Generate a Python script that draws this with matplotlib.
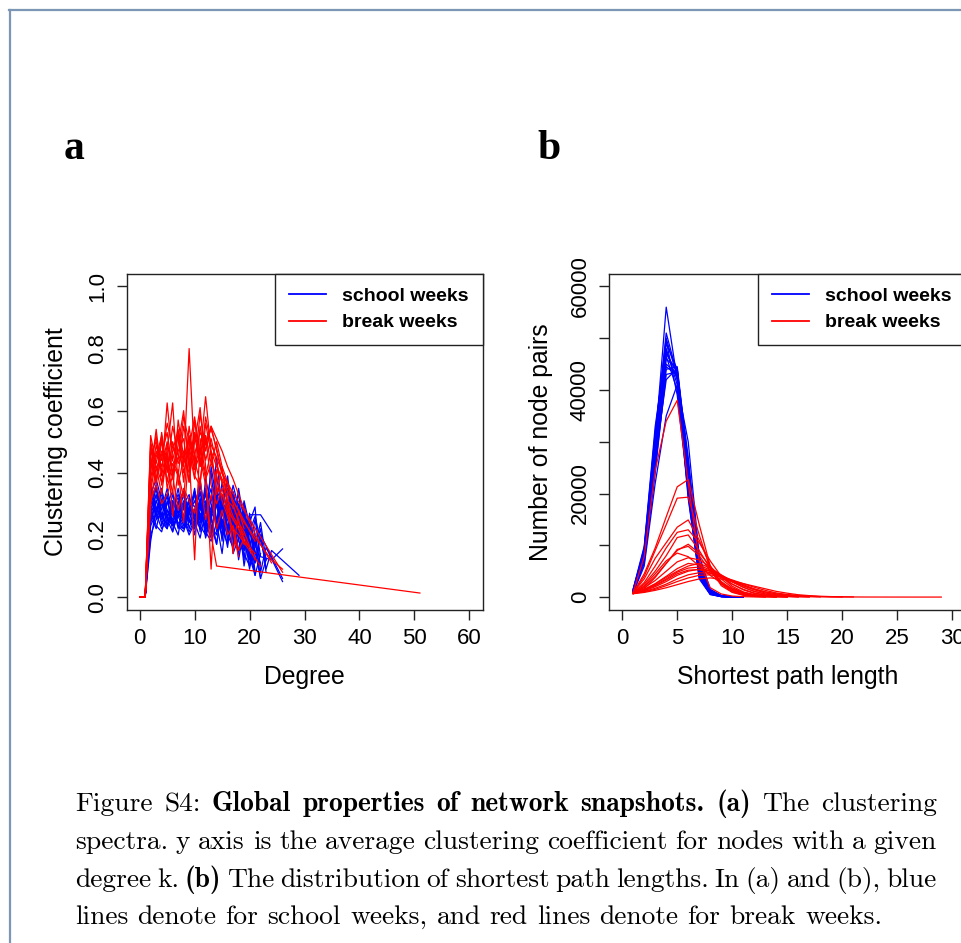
import numpy as np
import matplotlib
matplotlib.use("Agg")
import matplotlib.pyplot as plt
from matplotlib.lines import Line2D

nan = np.nan

# panel a: average clustering coefficient per degree (index = degree k)
school_cc = [
    [0, 0, 0.30, 0.36, 0.26, 0.22, 0.31, 0.27, 0.33, 0.22, 0.28, 0.34, 0.24, 0.19, 0.31, 0.22, 0.17, 0.28, 0.14, 0.24, 0.12, 0.20, 0.10],
    [0, 0, 0.24, 0.31, 0.33, 0.25, 0.21, 0.29, 0.24, 0.32, 0.20, 0.28, 0.33, 0.23, 0.17, 0.30, 0.35, 0.20, 0.15, 0.27, 0.14, 0.08],
    [0, 0, 0.37, 0.29, 0.25, 0.30, 0.34, 0.23, 0.22, 0.29, 0.33, 0.21, 0.38, 0.30, 0.24, 0.14, 0.29, 0.19, 0.26, 0.10, 0.21, 0.15, 0.06, 0.12],
    [0, 0, 0.20, 0.25, 0.31, 0.23, 0.29, 0.32, 0.26, 0.21, 0.25, 0.36, 0.27, 0.40, 0.24, 0.33, 0.22, 0.16, 0.30, 0.21, 0.09, 0.19, 0.06],
    [0, 0, 0.33, 0.38, 0.31, 0.26, 0.23, 0.30, 0.34, 0.25, 0.22, 0.30, 0.21, 0.28, 0.35, 0.22, 0.31, 0.14, 0.19, 0.28, 0.13, 0.07, 0.14],
    [0, 0, 0.18, 0.29, 0.24, 0.22, 0.28, 0.23, 0.21, 0.27, 0.31, 0.25, 0.34, 0.23, 0.20, 0.32, 0.18, 0.29, 0.12, 0.22, 0.26, 0.11, 0.20, nan, nan, nan, 0.06],
    [0, 0, 0.29, 0.23, 0.21, 0.28, 0.24, 0.20, 0.30, 0.25, 0.22, 0.31, 0.19, 0.26, 0.17, 0.29, 0.37, 0.22, 0.27, 0.19, 0.265, nan, 0.265, nan, 0.21],
    [0, 0, 0.32, 0.26, 0.34, 0.28, 0.25, 0.31, 0.24, 0.29, 0.26, 0.22, 0.31, 0.24, 0.39, 0.27, 0.21, 0.32, 0.20, 0.15, 0.24, 0.29, 0.08, 0.16, nan, nan, 0.05],
    [0, 0, 0.26, 0.33, 0.28, 0.35, 0.27, 0.24, 0.22, 0.28, 0.33, 0.26, 0.23, 0.42, 0.31, 0.25, 0.20, 0.16, 0.30, 0.22, 0.18, 0.11, 0.20, 0.09, 0.15, nan, nan, nan, nan, 0.07],
    [0, 0, 0.36, 0.25, 0.27, 0.23, 0.31, 0.27, 0.25, 0.20, 0.24, 0.19, 0.28, 0.21, 0.30, 0.19, 0.25, 0.31, 0.18, 0.14, 0.10, 0.22],
    [0, 0, 0.28, 0.35, 0.23, 0.31, 0.24, 0.30, 0.34, 0.27, 0.23, 0.32, 0.21, 0.18, 0.24, 0.37, 0.26, 0.22, 0.34, 0.15, 0.24, 0.08],
    [0, 0, 0.31, 0.27, 0.35, 0.26, 0.30, 0.22, 0.30, 0.33, 0.25, 0.24, 0.29, 0.35, 0.21, 0.25, 0.16, 0.33, 0.23, 0.28, 0.16, 0.25, 0.13, nan, 0.12, nan, 0.155],
    [0, 0, 0.24, 0.31, 0.26, 0.33, 0.21, 0.27, 0.23, 0.31, 0.27, 0.38, 0.23, 0.29, 0.33, 0.18, 0.35, 0.25, 0.19, 0.31, 0.23, 0.17],
    [0, 0, 0.34, 0.28, 0.31, 0.25, 0.33, 0.27, 0.29, 0.24, 0.34, 0.28, 0.35, 0.25, 0.45, 0.27, 0.39, 0.24, 0.21, 0.30, 0.18, 0.07],
    [0, 0, 0.27, 0.22, 0.30, 0.33, 0.27, 0.35, 0.25, 0.31, 0.24, 0.27, 0.22, 0.32, 0.25, 0.20, 0.30, 0.18, 0.35, 0.24, 0.10, 0.16, 0.24, 0.12],
    [0, 0, 0.31, 0.36, 0.26, 0.28, 0.23, 0.26, 0.31, 0.27, 0.35, 0.24, 0.30, 0.20, 0.32, 0.24, 0.21, 0.34, 0.26, 0.12, 0.27, 0.16, 0.22, 0.08],
    [0, 0, 0.23, 0.27, 0.22, 0.25, 0.23, 0.26, 0.22, 0.24, 0.27, 0.23, 0.20, 0.27, 0.25, 0.29, 0.23, 0.20, 0.24, 0.17, 0.22, 0.14, 0.11],
    [0, 0, 0.35, 0.32, 0.30, 0.32, 0.29, 0.33, 0.28, 0.31, 0.29, 0.33, 0.30, 0.27, 0.34, 0.31, 0.27, 0.36, 0.29, 0.25, 0.21, 0.26, 0.18, 0.12],
]

break_cc = [
    [0, 0, 0.45, 0.38, 0.50, 0.41, 0.55, 0.46, 0.42, 0.80, 0.44, 0.37, 0.52, 0.36, 0.30, 0.35, 0.27, 0.22, 0.20, nan, 0.15, nan, 0.10],
    [0, 0, 0.52, 0.43, 0.51, 0.37, 0.47, 0.54, 0.40, 0.48, 0.58, 0.46, 0.645, 0.47, 0.42, 0.38, 0.34, nan, 0.28, nan, nan, 0.18],
    [0, 0, 0.38, 0.49, 0.40, 0.625, 0.44, 0.52, 0.37, 0.55, 0.42, 0.59, 0.47, 0.55, 0.47, 0.40, nan, 0.335, nan, nan, nan, nan, nan, nan, nan, nan, 0.08],
    [0, 0, 0.30, 0.42, 0.33, 0.47, 0.625, 0.36, 0.45, 0.51, 0.39, 0.36, 0.56, 0.46, 0.33, 0.42, 0.29, 0.25, nan, 0.19, 0.16],
    [0, 0, 0.42, 0.52, 0.36, 0.45, 0.38, 0.49, 0.60, 0.41, 0.53, 0.45, 0.36, 0.20, 0.10] + [nan] * 36 + [0.013],
    [0, 0, 0.48, 0.37, 0.46, 0.53, 0.40, 0.47, 0.51, 0.37, 0.57, 0.42, 0.50, 0.54, 0.48, 0.40, 0.36, 0.30, 0.24, 0.21, nan, 0.12],
    [0, 0, 0.34, 0.45, 0.52, 0.35, 0.43, 0.39, 0.55, 0.46, 0.12, 0.51, 0.39, 0.47, 0.35, 0.33, 0.28, nan, 0.22, 0.17],
    [0, 0, 0.49, 0.41, 0.47, 0.44, 0.33, 0.57, 0.45, 0.40, 0.50, 0.61, 0.42, 0.09, 0.41, 0.37, 0.31, 0.26, nan, 0.20],
    [0, 0, 0.40, 0.54, 0.39, 0.49, 0.44, 0.40, 0.32, 0.52, 0.43, 0.47, 0.38, 0.43, 0.50, 0.42, 0.37, 0.31, nan, 0.24, nan, nan, nan, nan, 0.12, nan, 0.09],
    [0, 0, 0.44, 0.36, 0.53, 0.40, 0.50, 0.43, 0.47, 0.37, 0.52, 0.42, 0.58, 0.49, 0.45, 0.40, 0.34, 0.14, 0.28, 0.22],
    [0, 0, 0.36, 0.47, 0.42, 0.50, 0.39, 0.53, 0.43, 0.47, 0.38, 0.55, 0.44, 0.51, 0.43, 0.37, 0.31, 0.29, 0.25, 0.18, nan, 0.14],
    [0, 0, 0.50, 0.42, 0.37, 0.47, 0.26, 0.41, 0.24, 0.48, 0.41, 0.46, 0.52, 0.43, 0.39, 0.31, 0.26, 0.21, 0.13],
    [0, 0, 0.31, 0.36, 0.30, 0.33, 0.39, 0.28, 0.35, 0.31, 0.27, 0.38, 0.25, 0.33, 0.22, 0.28, 0.20, 0.23, 0.15, 0.19],
    [0, 0, 0.46, 0.50, 0.44, 0.56, 0.48, 0.44, 0.58, 0.50, 0.46, 0.53, 0.49, 0.55, 0.51, 0.47, 0.42, 0.38, 0.33, nan, 0.24, nan, 0.17, nan, 0.11],
]

# panel b: number of node pairs per shortest path length (index 0 = length 1)
school_sp = [
    [1200, 8500, 30000, 56000, 42000, 19000, 4000, 600, 100, 20, 0],
    [1500, 9000, 31000, 51000, 43000, 20000, 3500, 500, 80, 10, 0],
    [1100, 7800, 28000, 49000, 44000, 22000, 4500, 700, 120, 20, 0],
    [1300, 8200, 29000, 47000, 43500, 23000, 5000, 800, 150, 30, 0],
    [1000, 7000, 26000, 46000, 44000, 25000, 6000, 1000, 200, 40, 0],
    [1400, 9500, 32000, 50000, 42500, 19500, 3800, 500, 90, 10],
    [1200, 8000, 27000, 45000, 43000, 24000, 5500, 900, 150, 20],
    [900, 6500, 24000, 44000, 44500, 26000, 6500, 1200, 250, 50, 0],
    [1600, 9800, 33000, 48000, 41000, 21000, 4200, 600, 100, 10],
    [1100, 7500, 25000, 43000, 43500, 27000, 7000, 1400, 300, 60, 0],
    [1300, 8800, 30000, 47500, 42000, 21500, 4800, 700, 100, 20],
    [1000, 7200, 27500, 46500, 40000, 23500, 5200, 900, 200, 30],
    [1250, 8400, 29500, 44500, 42800, 22500, 5800, 1000, 180, 40],
    [800, 6000, 22000, 35000, 41000, 30000, 8000, 1500, 300, 50, 0],
    [1450, 9200, 31500, 49500, 39000, 20500, 4400, 650, 110, 15],
    [1150, 7700, 26500, 42000, 44200, 24500, 6200, 1100, 220, 40, 0],
]

break_sp = [
    [1000, 7800, 24500, 34000, 38000, 22000, 7000, 1800, 600, 200, 80, 30, 10],
    [850, 4500, 9500, 15500, 21300, 22700, 14000, 6000, 2500, 1000, 400, 150, 60, 20],
    [850, 4000, 9000, 14000, 19100, 19300, 12000, 5500, 2200, 900, 350, 120, 40],
    [850, 3500, 7500, 10500, 13500, 14900, 11000, 6000, 2800, 1200, 500, 200, 80, 30],
    [800, 2500, 5000, 8000, 11500, 12000, 9000, 5500, 3000, 1500, 700, 300, 120, 50],
    [800, 2000, 4000, 6500, 9000, 10200, 8500, 6000, 3500, 1800, 900, 400, 200, 80, 30],
    [800, 1800, 3200, 5000, 6800, 7600, 7200, 5800, 4000, 2500, 1400, 700, 350, 150, 60],
    [750, 1500, 2600, 4000, 5500, 6500, 6200, 5200, 3800, 2500, 1500, 800, 400, 200, 80, 30],
    [750, 1400, 2300, 3500, 4800, 5600, 5800, 5000, 4000, 2900, 1900, 1100, 600, 300, 150, 60],
    [700, 1200, 2000, 3000, 4200, 5000, 5400, 5000, 4200, 3200, 2200, 1400, 800, 450, 220, 100, 40],
    [700, 1100, 1700, 2500, 3500, 4300, 4700, 4600, 4000, 3200, 2400, 1600, 1000, 600, 300, 150, 70, 30],
    [700, 1000, 1500, 2200, 3000, 3700, 4200, 4300, 3900, 3300, 2600, 1900, 1300, 800, 500, 300, 150, 80, 40, 20],
    [650, 900, 1300, 1800, 2400, 3000, 3500, 3700, 3500, 3100, 2600, 2100, 1600, 1100, 750, 450, 280, 160, 90, 50, 25],
    [650, 1600, 3800, 6500, 9200, 9800, 8000, 5000, 2600, 1300, 600, 250, 100, 40],
    [700, 2200, 4500, 7000, 8500, 7800, 6000, 4200, 2700, 1600, 900, 450, 200, 80, 30],
    [650, 1300, 2200, 3300, 4500, 5200, 5300, 4700, 3900, 3000, 2200, 1500, 1000, 650, 400, 250,
     150, 90, 50, 30, 20, 12, 8, 5, 3, 2, 1, 1, 0],
    [700, 1400, 2500, 3800, 5000, 6000, 6500, 5600, 4300, 3000, 1900, 1100, 600, 300, 150, 70, 30],
    [800, 2800, 6000, 9500, 12500, 13000, 10500, 7000, 4000, 2100, 1000, 450, 200, 80, 30],
]

legend_labels = ["school weeks", "break weeks"]
caption_lines = [
    [("Figure S4:", False), ("Global properties of network snapshots. (a)", True), ("The clustering", False)],
    [("spectra. y axis is the average clustering coefficient for nodes with a given", False)],
    [("degree k.", False), ("(b)", True), ("The distribution of shortest path lengths. In (a) and (b), blue", False)],
    [("lines denote for school weeks, and red lines denote for break weeks.", False)],
]

W, H = 961, 943
BLUE, RED = "#0000ff", "#ff0000"
SANS = "Liberation Sans"

fig = plt.figure(figsize=(W / 100, H / 100), dpi=100)
fig.patch.set_facecolor("white")


def style_axes(ax):
    for s in ax.spines.values():
        s.set_color("#222222")
        s.set_linewidth(1.0)
    ax.tick_params(length=7, width=1.0, color="#222222", labelsize=16, pad=6)
    for lab in ax.get_xticklabels() + ax.get_yticklabels():
        lab.set_fontfamily(SANS)
    for lab in ax.get_yticklabels():
        lab.set_rotation(90)
        lab.set_va("center")


def draw_legend(ax):
    handles = [Line2D([], [], color=BLUE, lw=1.3), Line2D([], [], color=RED, lw=1.3)]
    leg = ax.legend(handles, legend_labels, loc="upper right", bbox_to_anchor=(1, 1),
                    borderaxespad=0, fancybox=False, framealpha=1, edgecolor="#222222",
                    prop={"family": SANS, "weight": "bold", "size": 14},
                    handlelength=1.9, handletextpad=0.85, borderpad=0.7, labelspacing=0.44)
    leg.get_frame().set_linewidth(1.0)


# panel a
ax1 = fig.add_axes([126.5 / W, 1 - 609.5 / H, 356 / W, 335.5 / H])
for series, col in [(school_cc, BLUE), (break_cc, RED)]:
    for vals in series:
        y = np.array(vals, dtype=float)
        x = np.arange(len(y))
        ok = ~np.isnan(y)
        ax1.plot(x[ok], y[ok], color=col, lw=0.9)
ax1.set_xlim(-2.4, 62.4)
ax1.set_ylim(-0.04, 1.04)
ax1.set_xticks(np.arange(0, 61, 10))
ax1.set_yticks(np.arange(0, 1.01, 0.2))
ax1.set_yticklabels([f"{v:.1f}" for v in np.arange(0, 1.01, 0.2)])
ax1.set_xlabel("Degree", family=SANS, fontsize=17.8, labelpad=12)
ax1.set_ylabel("Clustering coefficient", family=SANS, fontsize=17.8, labelpad=14)
style_axes(ax1)
draw_legend(ax1)

# panel b
ax2 = fig.add_axes([609 / W, 1 - 609.5 / H, 356.5 / W, 335.5 / H])
for series, col in [(school_sp, BLUE), (break_sp, RED)]:
    for vals in series:
        y = np.array(vals, dtype=float)
        x = np.arange(1, len(y) + 1)
        ax2.plot(x, y, color=col, lw=0.9)
ax2.set_xlim(-1.2, 31.2)
ax2.set_ylim(-2400, 62400)
ax2.set_xticks(np.arange(0, 31, 5))
yt = np.arange(0, 60001, 10000)
ax2.set_yticks(yt)
ax2.set_yticklabels([str(v) if v % 20000 == 0 else "" for v in yt])
ax2.set_xlabel("Shortest path length", family=SANS, fontsize=17.8, labelpad=12)
ax2.set_ylabel("Number of node pairs", family=SANS, fontsize=17.8, labelpad=12)
style_axes(ax2)
draw_legend(ax2)

# panel letters
fig.text(64 / W, 1 - 159 / H, "a", family="Liberation Serif", weight="bold", fontsize=30, va="baseline")
fig.text(537 / W, 1 - 159 / H, "b", family="Liberation Serif", weight="bold", fontsize=30, va="baseline")

# page border
border = "#7b97b5"
fig.add_artist(Line2D([9 / W, 1], [1 - 9.5 / H, 1 - 9.5 / H], color=border, lw=1.6))
fig.add_artist(Line2D([9.5 / W, 9.5 / W], [0, 1 - 9.5 / H], color=border, lw=1.6))

# caption, justified like the LaTeX source
renderer = fig.canvas.get_renderer()
x_left, x_right = 75, 937
baselines = [811, 849, 887, 924]
cap_size = 19.8


def make_word(word, bold):
    return fig.text(0, 0, word, family="cmb10" if bold else "cmr10", fontsize=cap_size, va="baseline")


space_probe = fig.text(0, 0, "a a", family="cmr10", fontsize=cap_size)
nospace_probe = fig.text(0, 0, "aa", family="cmr10", fontsize=cap_size)
natural_space = (space_probe.get_window_extent(renderer).width
                 - nospace_probe.get_window_extent(renderer).width)
space_probe.remove()
nospace_probe.remove()

for i, (pieces, base) in enumerate(zip(caption_lines, baselines)):
    words = []
    for chunk, bold in pieces:
        for w in chunk.split(" "):
            words.append(make_word(w, bold))
    widths = [t.get_window_extent(renderer).width for t in words]
    last = i == len(caption_lines) - 1
    gap = natural_space if last else (x_right - x_left - sum(widths)) / (len(words) - 1)
    gap = max(gap, 0.35 * natural_space)
    x = x_left
    for t, w in zip(words, widths):
        t.set_position((x / W, 1 - base / H))
        x += w + gap

fig.savefig("out.png", dpi=100, facecolor="white")
